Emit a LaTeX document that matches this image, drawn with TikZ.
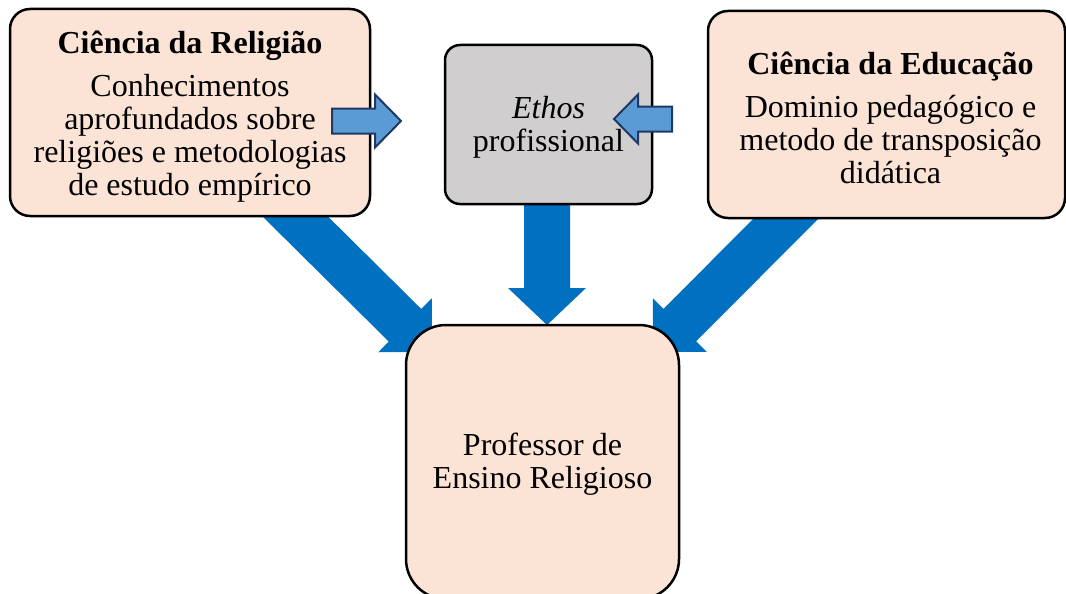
\documentclass[tikz,border=0pt]{standalone}
\usepackage{fontspec}
\setmainfont{Liberation Serif}
\usetikzlibrary{calc}
\definecolor{peach}{HTML}{FBE4D6}
\definecolor{greybox}{HTML}{D0CECE}
\definecolor{bigblue}{HTML}{0070C0}
\definecolor{lightblue}{HTML}{5B9BD5}
\definecolor{navy}{HTML}{203864}
% #1 style, #2 tail, #3 tip, #4 body half width, #5 head half width, #6 head length
\newcommand\blockarrow[6]{%
  \coordinate (ba-base) at ($(#3)!#6!(#2)$);%
  \path[#1] ($(#2)!#4!90:(#3)$) -- ($(ba-base)!#4!90:(#3)$) -- ($(ba-base)!#5!90:(#3)$) -- (#3) -- ($(ba-base)!#5!-90:(#3)$) -- ($(ba-base)!#4!-90:(#3)$) -- ($(#2)!#4!-90:(#3)$) -- cycle;%
}
\tikzset{
  box/.style={draw=black, line width=2.5pt, rectangle, rounded corners=20pt, fill=peach, inner sep=0pt},
  greyb/.style={box, fill=greybox, rounded corners=15pt},
  txt/.style={align=center, inner sep=0pt, font=\fontsize{32}{33}\selectfont},
  bigarrow/.style={fill=bigblue},
  smallarrow/.style={fill=lightblue, draw=navy, line width=2pt, line join=miter},
}
\begin{document}
\begin{tikzpicture}[x=1pt,y=-1pt]
\useasboundingbox (0,0) rectangle (1066,594);
% anchor coordinates of the big arrows
\coordinate (tl) at (270.5,192);
\coordinate (hl) at (432,352);
\coordinate (tm) at (547,198);
\coordinate (hm) at (547,325);
\coordinate (tr) at (811.5,193);
\coordinate (hr) at (653,352);
\blockarrow{bigarrow}{tl}{hl}{23pt}{38pt}{38pt}
\blockarrow{bigarrow}{tm}{hm}{23pt}{39pt}{37pt}
\blockarrow{bigarrow}{tr}{hr}{23pt}{38pt}{38pt}
% boxes
\node[box, minimum width=360pt, minimum height=207pt] (rel) at (190,112.5) {};
\node[txt] (relt) at ([yshift=-4pt]rel.center)
  {\textbf{Ciência da Religião}\\[10pt]Conhecimentos\\aprofundados sobre\\religiões e metodologias\\de estudo empírico};
\node[greyb, minimum width=207pt, minimum height=159pt] (eth) at (548.5,124.5) {};
\node[txt] (etht) at ([yshift=-3pt]eth.center) {\textit{Ethos}\\profissional};
\node[box, minimum width=357pt, minimum height=207pt] (edu) at (886.5,114.5) {};
\node[txt] (edut) at ([xshift=4pt,yshift=-3pt]edu.center)
  {\textbf{Ciência da Educação}\\[10pt]Dominio pedagógico e\\metodo de transposição\\didática};
\node[box, rounded corners=40pt, minimum width=273pt, minimum height=274pt] (prof) at (542.5,462) {};
\node[txt] (proft) at ([yshift=-2pt]prof.center) {Professor de\\Ensino Religioso};
% small arrows
\coordinate (sa1) at (332,121);
\coordinate (sb1) at (401,121);
\coordinate (sa2) at (672,119);
\coordinate (sb2) at (614,119);
\blockarrow{smallarrow}{sa1}{sb1}{12.5pt}{26.5pt}{26pt}
\blockarrow{smallarrow}{sa2}{sb2}{12.5pt}{24.5pt}{24pt}
\end{tikzpicture}
\end{document}
